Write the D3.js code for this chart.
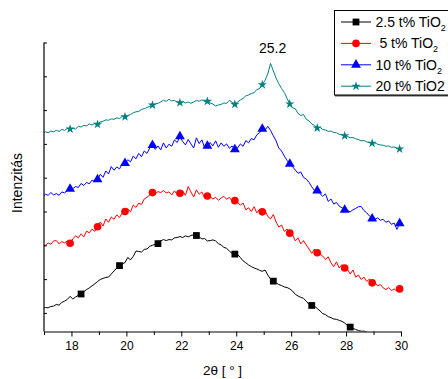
<!DOCTYPE html>
<html>
<head>
<meta charset="utf-8">
<script src="https://cdn.jsdelivr.net/npm/d3@7"></script>
<style>
  body { margin: 0; background: #fff; }
  svg { display: block; }
  text { font-family: "Liberation Sans", Arial, sans-serif; fill: #000; }
</style>
</head>
<body>
<svg id="chart" width="448" height="379"></svg>
<script>
// Diffraction angle grid (degrees 2θ): first point and step
const twoThetaStart = 16.95;
const twoThetaStep = 0.1;

// Intensities (a.u., vertically offset patterns)
const tio2_2_5 = [69,71,70,74,75,80,78,86,90,95,
  104,96,102,107,111,118,124,129,135,141,
  148,154,157,160,161,170,179,188,195,200,
  204,219,212,222,238,237,235,243,244,252,
  255,258,260,268,272,269,272,271,277,278,
  281,278,283,280,284,286,284,280,274,275,
  268,269,271,268,260,256,249,246,238,231,
  229,228,219,209,203,197,192,188,185,181,
  178,182,167,155,149,144,139,136,132,130,
  126,120,110,105,101,98,90,80,77,75,
  68,61,53,50,44,41,37,36,33,30,
  25,18,13,9,6,3,1,1,-1,-7];

const tio2_5 = [250,255,262,258,268,269,259,266,262,268,
  261,274,283,277,289,280,297,292,303,296,
  310,324,312,333,323,339,332,345,337,351,
  355,363,354,374,367,380,376,392,397,404,
  411,407,414,411,417,410,413,404,416,406,
  409,416,403,429,413,398,419,406,413,395,
  401,398,392,397,388,395,400,391,397,386,
  387,382,374,380,360,366,355,369,351,361,
  354,358,340,333,346,324,309,315,296,303,
  291,286,268,277,259,269,256,244,231,244,
  233,229,223,213,221,203,192,206,188,198,
  188,184,170,182,161,167,154,161,148,155,
  144,145,135,139,129,124,130,121,126,120,
  126];

const tio2_10 = [398,406,403,411,404,408,403,413,410,417,
  422,423,429,426,438,432,441,437,448,443,
  450,465,456,475,466,488,477,487,481,496,
  498,508,502,519,511,527,517,534,527,543,
  551,539,549,537,558,543,554,548,567,559,
  577,562,552,568,555,543,573,556,567,543,
  549,559,549,564,545,558,548,555,542,549,
  539,543,555,548,565,558,571,567,582,588,
  599,596,607,595,579,564,543,534,519,506,
  496,488,478,468,472,456,451,441,428,417,
  417,408,400,407,385,392,377,382,371,366,
  360,358,354,360,364,369,370,358,351,342,
  334,332,336,329,332,323,327,317,321,302,
  320];

const tio2_20 = [586,591,588,593,591,595,592,598,595,601,
  599,601,599,607,605,610,608,614,611,616,
  613,620,622,626,625,629,628,632,630,636,
  635,639,642,647,650,651,657,659,663,666,
  670,673,675,679,684,681,687,682,684,678,
  677,681,676,679,675,679,684,681,685,681,
  681,676,673,667,670,672,676,675,684,678,
  672,679,685,690,697,700,704,707,715,719,
  730,743,762,793,771,750,733,719,707,690,
  673,662,659,645,639,642,628,623,614,610,
  602,604,598,596,592,593,589,588,583,582,
  579,577,573,574,570,568,564,565,561,559,
  557,558,554,552,551,548,549,545,546,542,
  540];

const seriesNames = ["2.5 t% TiO", " 5 t% TiO", "10 t% TiO", "20 t% TiO2"];
const seriesSubscripts = ["2", "2", "2", ""];
const seriesColors = ["#000000", "#ff0000", "#0000ff", "#008080"];
// marker every n-th point, starting at index first
const markerFirst = [14, 10, 10, 10];
const markerEvery = [14, 10, 10, 10];

const xTicks = [17, 18, 19, 20, 21, 22, 23, 24, 25, 26, 27, 28, 29, 30];
const xTickLabels = [18, 20, 22, 24, 26, 28, 30];
const yTicks = [55, 155, 255, 355, 455, 555, 655, 755, 855];
const peakLabel = "25.2";

const svg = d3.select("#chart");
const x = d3.scaleLinear().domain([17, 30]).range([44, 401]);
const y = d3.scaleLinear().domain([0, 855]).range([331.5, 42.5]);

const allSeries = [tio2_2_5, tio2_5, tio2_10, tio2_20].map(vals =>
  vals.map((v, i) => ({ t: twoThetaStart + twoThetaStep * i, v }))
);
const symbols = [d3.symbolSquare, d3.symbolCircle, d3.symbolTriangle, d3.symbolStar];
const symbolSizes = [46, 46, 42, 27];

svg.append("clipPath").attr("id", "plotClip")
  .append("rect").attr("x", 44).attr("y", 40).attr("width", 357).attr("height", 291.5);

const line = d3.line().x(d => x(d.t)).y(d => y(d.v));

allSeries.forEach((data, k) => {
  svg.append("path")
    .datum(data)
    .attr("clip-path", "url(#plotClip)")
    .attr("fill", "none")
    .attr("stroke", seriesColors[k])
    .attr("stroke-width", 1)
    .attr("stroke-linejoin", "round")
    .attr("d", line);
  const marks = data.filter((d, i) => i >= markerFirst[k] && (i - markerFirst[k]) % markerEvery[k] === 0
    && d.t >= 17 && d.t <= 30.01 && d.v >= 0);
  svg.append("g").selectAll("path").data(marks).join("path")
    .attr("transform", d => `translate(${x(d.t)},${y(d.v)})`)
    .attr("d", d3.symbol().type(symbols[k]).size(symbolSizes[k]))
    .attr("fill", seriesColors[k]);
});

// axes
const xAxis = svg.append("g").attr("transform", "translate(0,331.5)")
  .call(d3.axisBottom(x).tickValues(xTicks).tickSize(5).tickSizeOuter(0).tickPadding(5)
    .tickFormat(d => xTickLabels.includes(d) ? d : ""));
xAxis.selectAll(".tick line").attr("y2", d => xTickLabels.includes(d) ? 5 : 3.5);
xAxis.selectAll("text").attr("font-size", 12).style("font-family", '"Liberation Sans", Arial, sans-serif');
xAxis.select(".domain").attr("stroke-width", 1.2);

const yAxis = svg.append("g").attr("transform", "translate(44,0)")
  .call(d3.axisLeft(y).tickValues(yTicks).tickSize(-3).tickSizeOuter(0).tickFormat(""));
yAxis.select(".domain").attr("d", `M0,${y(855)}V331.5`).attr("stroke-width", 1.2);

svg.append("text").attr("x", 222.5).attr("y", 375).attr("text-anchor", "middle")
  .attr("font-size", 13.5).text("2θ [ ° ]");
svg.append("text").attr("transform", "translate(22,183) rotate(-90)")
  .attr("text-anchor", "middle").attr("font-size", 14).text("Intenzitás");

// peak annotation on the 20 % pattern
const peak = allSeries[3].reduce((a, b) => (b.v > a.v ? b : a));
svg.append("text").attr("x", x(peak.t) + 2).attr("y", y(peak.v) - 10)
  .attr("text-anchor", "middle").attr("font-size", 14).text(peakLabel);

// legend
const lg = svg.append("g");
lg.append("rect").attr("x", 335).attr("y", 12).attr("width", 120).attr("height", 84.5).attr("fill", "#555");
lg.append("rect").attr("x", 334.5).attr("y", 10.5).attr("width", 120).attr("height", 84.5)
  .attr("fill", "#fff").attr("stroke", "#000").attr("stroke-width", 1);
seriesNames.forEach((name, k) => {
  const cy = 22 + 21.4 * k;
  lg.append("line").attr("x1", 341).attr("x2", 371).attr("y1", cy).attr("y2", cy)
    .attr("stroke", seriesColors[k]).attr("stroke-width", 1);
  lg.append("path").attr("transform", `translate(356,${cy})`)
    .attr("d", d3.symbol().type(symbols[k]).size(symbolSizes[k]))
    .attr("fill", seriesColors[k]);
  const t = lg.append("text").attr("x", 375.5).attr("y", cy + 5).attr("font-size", 14)
    .style("white-space", "pre").text(name);
  if (seriesSubscripts[k]) {
    t.append("tspan").attr("dy", 4).attr("font-size", 9).text(seriesSubscripts[k]);
  }
});
</script>
</body>
</html>
